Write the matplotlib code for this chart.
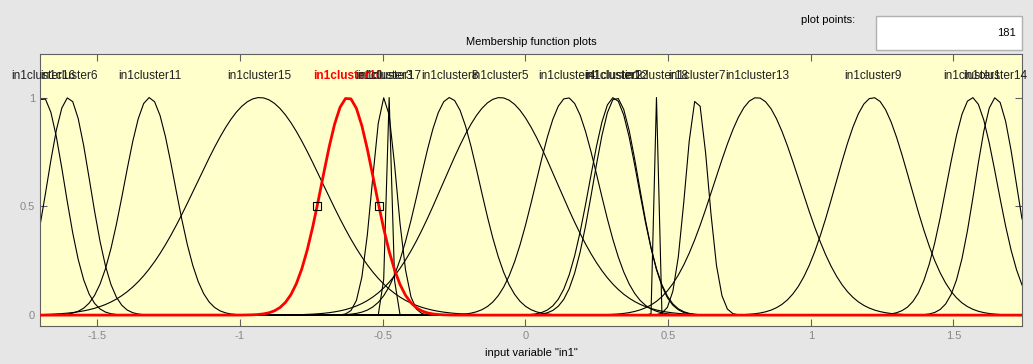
import numpy as np
import matplotlib.pyplot as plt
from matplotlib.patches import Rectangle

# membership functions of input "in1" (gaussmf: center, sigma)
mf_names = ['in1cluster16', 'in1cluster6', 'in1cluster11', 'in1cluster15', 'in1cluster10',
            'in1cluster3', 'in1cluster17', 'in1cluster8', 'in1cluster5', 'in1cluster4',
            'in1cluster2', 'in1cluster12', 'in1cluster18', 'in1cluster7', 'in1cluster13',
            'in1cluster9', 'in1cluster1', 'in1cluster14']
mf_centers = [-1.69, -1.60, -1.316, -0.93, -0.621,
              -0.494, -0.477, -0.265, -0.088, 0.147,
              0.31, 0.318, 0.4596, 0.601, 0.812,
              1.218, 1.565, 1.648]
mf_sigmas = [0.075, 0.075, 0.088, 0.22, 0.092,
             0.042, 0.01, 0.105, 0.2, 0.11,
             0.085, 0.08, 0.006, 0.04, 0.15,
             0.13, 0.088, 0.072]
selected = 'in1cluster10'
x_range = [-1.7, 1.74]
n_points = 181

x = np.linspace(x_range[0], x_range[1], n_points)

plt.rcParams['font.family'] = ['Liberation Sans', 'DejaVu Sans']
fig = plt.figure(figsize=(10.33, 3.64), dpi=100)
fig.patch.set_facecolor('#e6e6e6')

W, H = 1033, 364
ax = fig.add_axes([40 / W, 1 - 326 / H, (1022 - 40) / W, (326 - 54) / H])
ax.set_facecolor('#ffffcc')

for name, c, s in zip(mf_names, mf_centers, mf_sigmas):
    y = np.exp(-(x - c) ** 2 / (2 * s ** 2))
    if name == selected:
        ax.plot(x, y, color='red', lw=2, zorder=3)
        ax.text(c, 1.1, name, color='red', fontweight='bold', ha='center', va='center', fontsize=8.6)
        # drag handles at half height
        hw = s * np.sqrt(2 * np.log(2))
        for xh in (c - hw, c + hw):
            ax.plot(xh, 0.5, marker='s', ms=6, mfc='none', mec='black', mew=0.8, zorder=4)
    else:
        ax.plot(x, y, color='black', lw=0.8, zorder=2)
        ax.text(c, 1.1, name, color='#202020', ha='center', va='center', fontsize=8.6)

ax.set_xlim(x_range)
ax.set_ylim(-0.05, 1.2)
ax.set_xticks([-1.5, -1, -0.5, 0, 0.5, 1, 1.5])
ax.set_xticklabels(['-1.5', '-1', '-0.5', '0', '0.5', '1', '1.5'])
ax.set_yticks([0, 0.5, 1])
ax.set_yticklabels(['0', '0.5', '1'])
ax.tick_params(direction='in', length=5, top=True, right=True, labelsize=8,
               labelcolor='#888888', color='#606060', width=0.8)
for sp in ax.spines.values():
    sp.set_color('#606060')
    sp.set_linewidth(0.8)

fig.text(531 / W, 1 - 42 / H, 'Membership function plots', ha='center', va='center', fontsize=8)
fig.text(531 / W, 1 - 353 / H, 'input variable "in1"', ha='center', va='center', fontsize=8)

# plot points box
fig.text(855 / W, 1 - 20 / H, 'plot points:', ha='right', va='center', fontsize=8)
fig.patches.append(Rectangle((876 / W, 1 - 50 / H), (1022 - 876) / W, 34 / H,
                             transform=fig.transFigure, facecolor='white',
                             edgecolor='#b0b0b0', lw=1, zorder=5))
fig.text(1016 / W, 1 - 33 / H, str(n_points), ha='right', va='center', fontsize=8, zorder=6)

fig.savefig('out.png', dpi=100, facecolor=fig.get_facecolor())
